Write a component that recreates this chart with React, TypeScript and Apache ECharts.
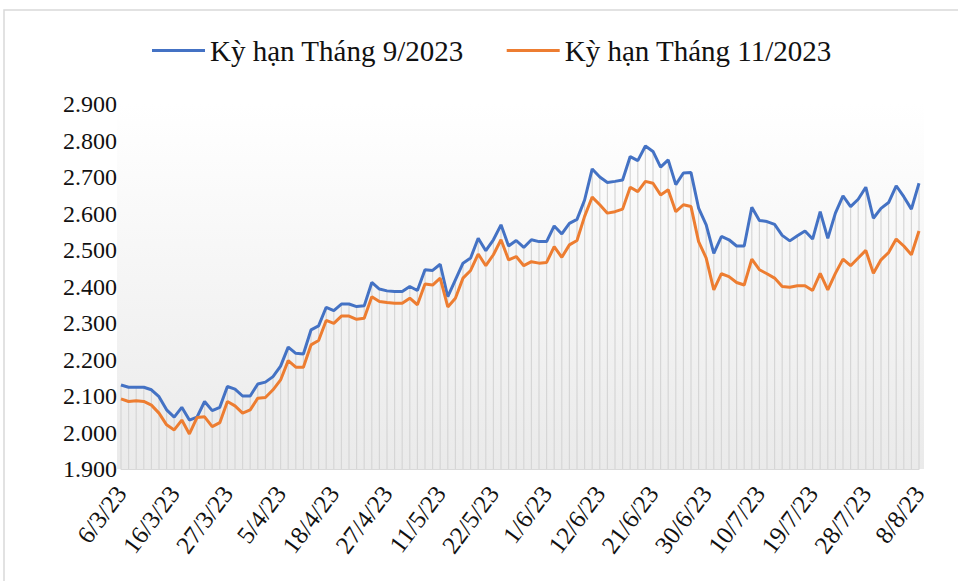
import React, { useEffect, useRef } from "react";
import * as echarts from "echarts";

const dates = [
  "6/3/23","7/3/23","8/3/23","10/3/23","13/3/23","14/3/23","15/3/23","16/3/23",
  "17/3/23","20/3/23","21/3/23","22/3/23","23/3/23","24/3/23","27/3/23",
  "28/3/23","29/3/23","30/3/23","31/3/23","3/4/23","4/4/23","5/4/23",
  "6/4/23","11/4/23","12/4/23","13/4/23","14/4/23","17/4/23","18/4/23",
  "19/4/23","20/4/23","21/4/23","24/4/23","25/4/23","26/4/23","27/4/23",
  "28/4/23","3/5/23","4/5/23","5/5/23","9/5/23","10/5/23","11/5/23",
  "12/5/23","15/5/23","16/5/23","17/5/23","18/5/23","19/5/23","22/5/23",
  "23/5/23","24/5/23","25/5/23","26/5/23","30/5/23","31/5/23","1/6/23",
  "2/6/23","5/6/23","6/6/23","7/6/23","8/6/23","9/6/23","12/6/23",
  "13/6/23","14/6/23","15/6/23","16/6/23","19/6/23","20/6/23","21/6/23",
  "22/6/23","23/6/23","26/6/23","27/6/23","28/6/23","29/6/23","30/6/23",
  "1/7/23","3/7/23","4/7/23","5/7/23","6/7/23","7/7/23","10/7/23",
  "11/7/23","12/7/23","13/7/23","14/7/23","17/7/23","18/7/23","19/7/23",
  "20/7/23","21/7/23","24/7/23","25/7/23","26/7/23","27/7/23","28/7/23",
  "31/7/23","1/8/23","2/8/23","3/8/23","4/8/23","7/8/23","8/8/23",
];

const seriesNames = ["Kỳ hạn Tháng 9/2023", "Kỳ hạn Tháng 11/2023"];

const sep2023 = [
  2130, 2124, 2124, 2124, 2117, 2098, 2062, 2042, 2069, 2034,
  2042, 2085, 2060, 2069, 2126, 2119, 2100, 2100, 2133, 2138,
  2153, 2182, 2234, 2217, 2215, 2281, 2292, 2343, 2334, 2352,
  2352, 2345, 2347, 2411, 2393, 2388, 2386, 2386, 2400, 2389,
  2446, 2444, 2461, 2372, 2418, 2464, 2478, 2532, 2498, 2528,
  2569, 2511, 2526, 2507, 2528, 2523, 2523, 2566, 2544, 2573,
  2584, 2637, 2722, 2700, 2685, 2688, 2692, 2756, 2745, 2785,
  2770, 2727, 2747, 2679, 2711, 2712, 2615, 2569, 2491, 2537,
  2528, 2511, 2511, 2617, 2581, 2578, 2570, 2540, 2525, 2539,
  2552, 2530, 2605, 2532, 2601, 2648, 2619, 2639, 2672, 2587,
  2614, 2630, 2676, 2646, 2612, 2683,
];

const nov2023 = [
  2092, 2085, 2087, 2085, 2075, 2053, 2021, 2007, 2034, 1996,
  2041, 2043, 2016, 2027, 2085, 2073, 2053, 2062, 2094, 2096,
  2117, 2144, 2197, 2179, 2179, 2240, 2252, 2307, 2299, 2319,
  2319, 2310, 2313, 2372, 2359, 2356, 2354, 2354, 2368, 2350,
  2407, 2404, 2423, 2344, 2368, 2423, 2444, 2489, 2457, 2487,
  2528, 2473, 2482, 2457, 2468, 2464, 2466, 2509, 2480, 2514,
  2526, 2592, 2645, 2624, 2601, 2605, 2612, 2672, 2660, 2688,
  2683, 2651, 2665, 2605, 2624, 2619, 2523, 2478, 2391, 2435,
  2427, 2411, 2404, 2475, 2446, 2435, 2423, 2400, 2398, 2402,
  2402, 2389, 2436, 2391, 2436, 2475, 2457, 2478, 2499, 2436,
  2473, 2493, 2530, 2511, 2487, 2552,
];

const yMin = 1900;
const yMax = 2900;
const yStep = 100;

const FONT = "Liberation Serif";

function fmtY(v: number): string {
  const th = Math.floor(v / 1000);
  const rest = String(Math.round(v % 1000)).padStart(3, "0");
  return `${th}.${rest}`;
}

export default function App() {
  const ref = useRef<HTMLDivElement | null>(null);

  useEffect(() => {
    if (!ref.current) return;
    const chart = echarts.init(ref.current, undefined, { renderer: "svg" });
    const dropData = sep2023.map((v, i) => [i, Math.max(v, nov2023[i])]);
    chart.setOption({
      animation: false,
      backgroundColor: "#ffffff",
      graphic: [
        {
          type: "rect",
          z: -10,
          shape: { x: 4, y: 10, width: 1200, height: 1200 },
          style: { fill: "none", stroke: "#d9d9d9", lineWidth: 1.5 },
          silent: true,
        },
        {
          type: "rect",
          z: -5,
          shape: { x: 117, y: 104, width: 807, height: 365 },
          style: {
            fill: new echarts.graphic.LinearGradient(0, 0, 0, 1, [
              { offset: 0, color: "#ffffff" },
              { offset: 0.1, color: "#fdfdfd" },
              { offset: 1, color: "#eaeaea" },
            ]),
          },
          silent: true,
        },
      ],
      legend: {
        data: seriesNames,
        left: 147,
        top: 31,
        icon: "rect",
        itemWidth: 53,
        itemHeight: 3,
        itemGap: 43,
        textStyle: { fontFamily: FONT, fontSize: 29, color: "#111" },
      },
      grid: { left: 121, right: 39, top: 104, bottom: 112, containLabel: false },
      xAxis: {
        type: "category",
        data: dates,
        boundaryGap: false,
        axisLine: { show: true, lineStyle: { color: "#d9d9d9", width: 1 } },
        axisTick: { show: false },
        axisLabel: {
          interval: 6,
          rotate: 53,
          margin: 20,
          fontFamily: FONT,
          fontSize: 25,
          color: "#111",
        },
        splitLine: { show: false },
      },
      yAxis: {
        type: "value",
        min: yMin,
        max: yMax,
        interval: yStep,
        axisLine: { show: false },
        axisTick: { show: false },
        splitLine: { show: false },
        axisLabel: {
          margin: 4,
          fontFamily: FONT,
          fontSize: 24,
          color: "#111",
          formatter: (v: number) => fmtY(v),
        },
      },
      series: [
        {
          name: "drop",
          type: "custom",
          data: dropData,
          encode: { x: 0, y: 1 },
          silent: true,
          z: 1,
          renderItem: (_params: any, api: any) => {
            const idx = api.value(0);
            const top = api.coord([idx, api.value(1)]);
            const bottom = api.coord([idx, yMin]);
            return {
              type: "line",
              shape: { x1: top[0], y1: top[1], x2: bottom[0], y2: bottom[1] },
              style: { stroke: "#d6d6d6", lineWidth: 1.2 },
            };
          },
        },
        {
          name: seriesNames[0],
          type: "line",
          data: sep2023,
          symbol: "none",
          z: 3,
          lineStyle: { color: "#4472C4", width: 3 },
          itemStyle: { color: "#4472C4" },
        },
        {
          name: seriesNames[1],
          type: "line",
          data: nov2023,
          symbol: "none",
          z: 3,
          lineStyle: { color: "#ED7D31", width: 3 },
          itemStyle: { color: "#ED7D31" },
        },
      ],
    });
    return () => chart.dispose();
  }, []);

  return (
    <div
      ref={ref}
      style={{ position: "absolute", left: 0, top: 0, width: 958, height: 581 }}
    />
  );
}
